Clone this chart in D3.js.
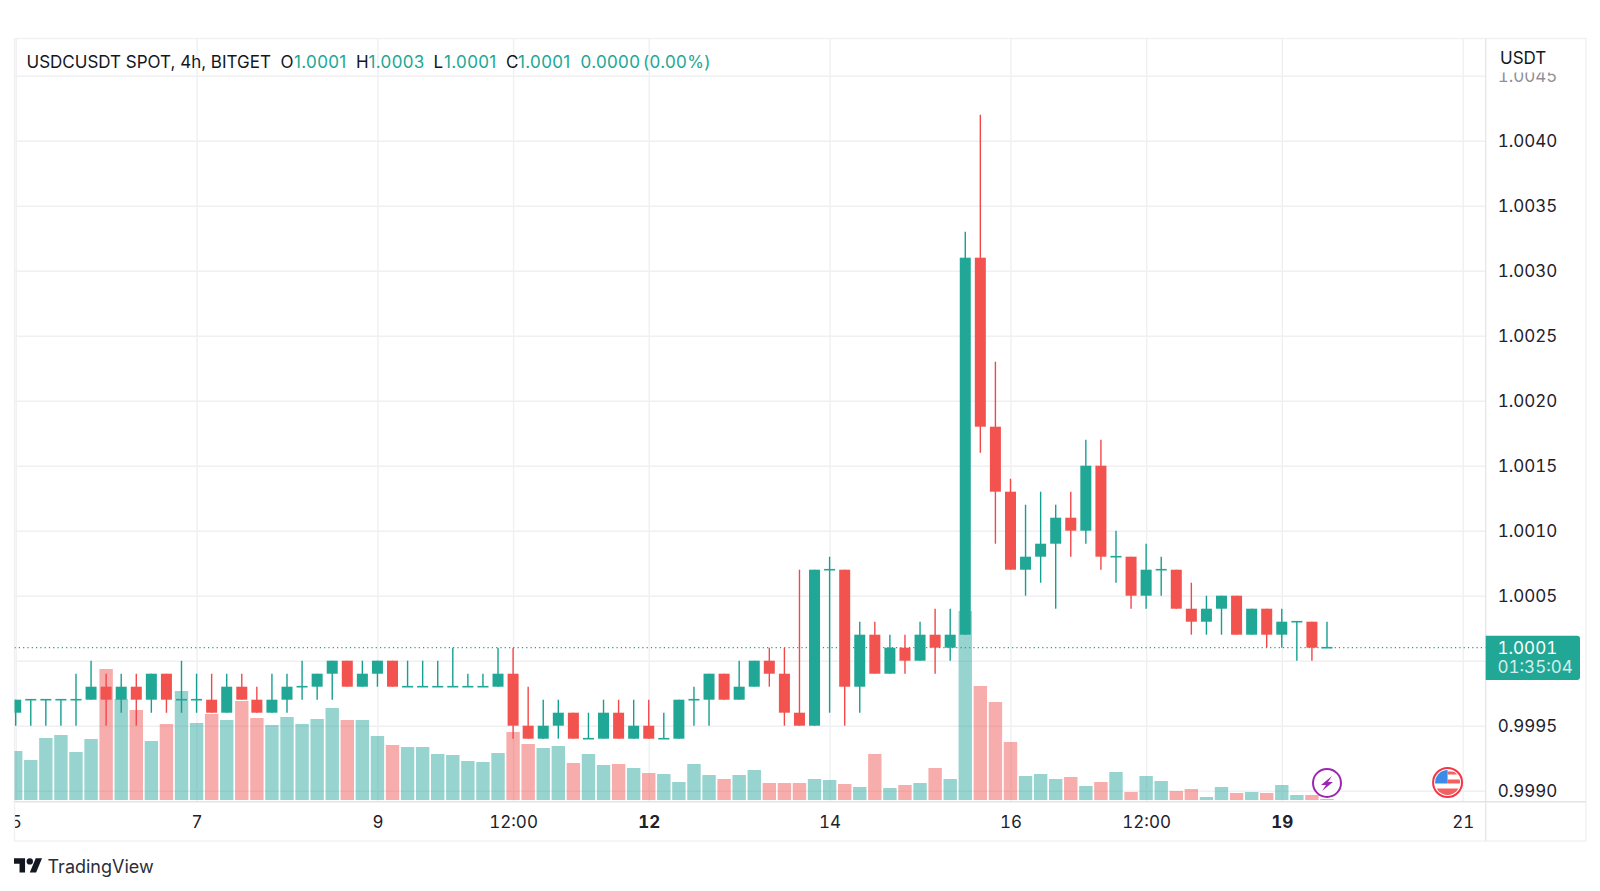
<!DOCTYPE html>
<html lang="en">
  <head>
    <meta charset="utf-8">
    <title>USDCUSDT</title>
    <script src="https://cdn.jsdelivr.net/npm/d3@7"></script>
    <style type="text/css">
      html, body { margin: 0; padding: 0; background: #fff; }
      svg { display: block; }
      text { font-family: Inter, "Noto Sans", sans-serif; fill: #131722; font-feature-settings: "tnum"; }
      .axis path { display: none; }
      .axis line { stroke: #f0f0f3; stroke-width: 1.4; }
      .axis text { font-size: 17px; fill: #1e222d; }
      .legend text { font-size: 17px; font-feature-settings: normal; }
      .legend text.num { letter-spacing: 0.35px; }
    </style>
  </head>
  <body>
    <div id="chart"></div>

    <script type="text/javascript">
      // candles, one per 4h
      var opens = [0.9996,0.9997,0.9997,0.9997,0.9997,0.9997,0.9998,0.9997,0.9998,0.9997,
        0.9999,0.9997,0.9997,0.9997,0.9996,0.9998,0.9997,0.9996,0.9997,0.9998,
        0.9998,0.9999,1.0000,0.9998,0.9999,1.0000,0.9998,0.9998,0.9998,0.9998,
        0.9998,0.9998,0.9998,0.9999,0.9995,0.9994,0.9995,0.9996,0.9994,0.9994,
        0.9996,0.9994,0.9995,0.9994,0.9994,0.9997,0.9997,0.9999,0.9997,0.9998,
        1.0000,0.9999,0.9996,0.9995,1.0007,1.0007,0.9998,1.0002,0.9999,1.0001,
        1.0000,1.0002,1.0001,1.0002,1.0031,1.0018,1.0013,1.0007,1.0008,1.0009,
        1.0011,1.0010,1.0015,1.0008,1.0008,1.0005,1.0007,1.0007,1.0004,1.0003,
        1.0004,1.0005,1.0002,1.0004,1.0002,1.0003,1.0003,1.0001];
      var highs = [0.9997,0.9997,0.9997,0.9997,0.9999,1.0000,0.9999,0.9999,0.9999,0.9999,
        0.9999,1.0000,0.9999,0.9999,0.9999,0.9999,0.9998,0.9999,0.9999,1.0000,
        0.9999,1.0000,1.0000,1.0000,1.0000,1.0000,1.0000,1.0000,1.0000,1.0001,
        0.9999,0.9999,1.0001,1.0001,0.9998,0.9997,0.9997,0.9996,0.9996,0.9997,
        0.9997,0.9997,0.9997,0.9996,0.9997,0.9998,0.9999,0.9999,1.0000,1.0000,
        1.0001,1.0001,1.0007,1.0007,1.0008,1.0007,1.0003,1.0003,1.0002,1.0002,
        1.0003,1.0004,1.0004,1.0033,1.0042,1.0023,1.0014,1.0012,1.0013,1.0012,
        1.0013,1.0017,1.0017,1.0010,1.0008,1.0009,1.0008,1.0007,1.0006,1.0005,
        1.0005,1.0005,1.0004,1.0004,1.0004,1.0003,1.0003,1.0003];
      var lows = [0.9995,0.9995,0.9995,0.9995,0.9995,0.9997,0.9995,0.9996,0.9995,0.9996,
        0.9996,0.9996,0.9996,0.9996,0.9996,0.9997,0.9996,0.9996,0.9996,0.9997,
        0.9997,0.9997,0.9998,0.9998,0.9998,0.9998,0.9998,0.9998,0.9998,0.9998,
        0.9998,0.9998,0.9998,0.9994,0.9994,0.9994,0.9994,0.9994,0.9994,0.9994,
        0.9994,0.9994,0.9994,0.9994,0.9994,0.9995,0.9995,0.9997,0.9997,0.9998,
        0.9998,0.9995,0.9995,0.9995,0.9996,0.9995,0.9996,0.9999,0.9999,0.9999,
        1.0000,0.9999,1.0000,1.0002,1.0016,1.0009,1.0007,1.0005,1.0006,1.0004,
        1.0008,1.0009,1.0007,1.0006,1.0004,1.0004,1.0005,1.0004,1.0002,1.0002,
        1.0002,1.0002,1.0002,1.0001,1.0001,1.0000,1.0000,1.0001];
      var closes = [0.9997,0.9997,0.9997,0.9997,0.9997,0.9998,0.9997,0.9998,0.9997,0.9999,
        0.9997,0.9997,0.9997,0.9996,0.9998,0.9997,0.9996,0.9997,0.9998,0.9998,
        0.9999,1.0000,0.9998,0.9999,1.0000,0.9998,0.9998,0.9998,0.9998,0.9998,
        0.9998,0.9998,0.9999,0.9995,0.9994,0.9995,0.9996,0.9994,0.9994,0.9996,
        0.9994,0.9995,0.9994,0.9994,0.9997,0.9997,0.9999,0.9997,0.9998,1.0000,
        0.9999,0.9996,0.9995,1.0007,1.0007,0.9998,1.0002,0.9999,1.0001,1.0000,
        1.0002,1.0001,1.0002,1.0031,1.0018,1.0013,1.0007,1.0008,1.0009,1.0011,
        1.0010,1.0015,1.0008,1.0008,1.0005,1.0007,1.0007,1.0004,1.0003,1.0004,
        1.0005,1.0002,1.0004,1.0002,1.0003,1.0003,1.0001,1.0001];
      var volumes = [49,40,62,65,48,61,131,101,90,59,
        76,109,77,86,80,99,82,75,83,76,
        81,92,80,80,64,55,53,53,46,45,
        39,38,47,68,56,52,54,37,46,35,
        36,32,27,26,18,36,25,21,25,30,
        17,17,17,21,20,16,13,46,12,15,
        17,32,21,189,114,98,58,24,26,21,
        23,14,18,28,8,24,19,9,11,3,
        13,7,8,7,15,5,5,1];

      var priceTicks = [0.9990,0.9995,1.0000,1.0005,1.0010,1.0015,1.0020,1.0025,1.0030,1.0035,1.0040,1.0045];
      var priceLabels = ["0.9990","0.9995","","1.0005","1.0010","1.0015","1.0020","1.0025","1.0030","1.0035","1.0040","1.0045"];
      var timeTicks = [0,12,24,33,42,54,66,75,84,96];
      var timeLabels = ["5","7","9","12:00","12","14","16","12:00","19","21"];
      var boldLabels = ["12","19"];
      var lastPrice = 1.0001;

      // "top" is taken on window, so pane* names here
      var paneLeft = 14.5, paneRight = 1485.7, paneTop = 38.5, paneBottom = 801.7, frameRight = 1586, frameBottom = 841;
      var green = "#20a796", red = "#f2534f";
      var greenWick = "#14a090", redWick = "#f4474a";

      var svg = d3.select("#chart").append("svg").attr("width", 1600).attr("height", 891);

      var x = d3.scaleLinear().domain([0, 87]).range([15.7, 1327]);
      var y = d3.scaleLinear().domain([0.9990, 1.0045]).range([790.7, 75.7]);
      var yVol = d3.scaleLinear().domain([0, 200]).range([800, 600]);

      svg.append("defs").append("clipPath").attr("id", "pane").append("rect")
        .attr("x", paneLeft).attr("y", paneTop)
        .attr("width", paneRight - paneLeft).attr("height", paneBottom - paneTop);

      // x axis, also draws the vertical grid
      var xAxis = d3.axisBottom(x).tickValues(timeTicks)
        .tickSize(paneTop - paneBottom)
        .tickFormat(function (d, i) { return timeLabels[i]; });
      var gx = svg.append("g").attr("class", "axis").attr("transform", "translate(0," + paneBottom + ")").call(xAxis);
      gx.selectAll("text").attr("y", 20).attr("dy", "0.35em")
        .style("font-weight", function (d, i) { return boldLabels.indexOf(timeLabels[i]) >= 0 ? 700 : 400; });

      // y axis on the right, ticks run back over the pane
      var yAxis = d3.axisRight(y).tickValues(priceTicks)
        .tickSize(paneLeft - paneRight)
        .tickFormat(function (d, i) { return priceLabels[i]; });
      var gy = svg.append("g").attr("class", "axis").attr("transform", "translate(" + paneRight + ",0)").call(yAxis);
      gy.selectAll("text").attr("x", 12).attr("dy", "0.35em").attr("text-anchor", "start");
      gy.selectAll("g").filter(function (d) { return d === 1.0045; }).select("text").attr("opacity", 0.5);

      // hides the top of 1.0045 and the left of the "5", as the pane edges do in the chart
      svg.append("rect").attr("x", paneRight).attr("y", 30).attr("width", 110).attr("height", 42.5).attr("fill", "#fff");
      svg.append("rect").attr("x", 0).attr("y", 805).attr("width", paneLeft).attr("height", 34).attr("fill", "#fff");

      // frame and pane borders
      svg.append("rect").attr("x", paneLeft).attr("y", paneTop)
        .attr("width", frameRight - paneLeft).attr("height", frameBottom - paneTop)
        .attr("fill", "none").attr("stroke", "#f0f0f3").attr("stroke-width", 1.3);
      svg.append("line").attr("x1", paneRight).attr("x2", paneRight).attr("y1", paneTop).attr("y2", frameBottom)
        .attr("stroke", "#e8e8ec").attr("stroke-width", 1.5);
      svg.append("line").attr("x1", paneLeft).attr("x2", frameRight).attr("y1", paneBottom).attr("y2", paneBottom)
        .attr("stroke", "#e4e4e8").attr("stroke-width", 1.5);

      var pane = svg.append("g").attr("clip-path", "url(#pane)");
      var idx = d3.range(opens.length);
      function isUp(i) { return closes[i] >= opens[i]; }

      // volume
      pane.selectAll("rect.vol").data(idx).enter().append("rect")
        .attr("class", "vol")
        .attr("x", function (i) { return x(i) - 6.7; })
        .attr("width", 13.4)
        .attr("y", function (i) { return yVol(volumes[i]); })
        .attr("height", function (i) { return yVol(0) - yVol(volumes[i]); })
        .attr("fill", function (i) { return isUp(i) ? "#26a69a" : "#ef5350"; })
        .attr("fill-opacity", 0.48);

      // last price line
      pane.append("line").attr("x1", paneLeft).attr("x2", paneRight)
        .attr("y1", y(lastPrice)).attr("y2", y(lastPrice))
        .attr("stroke", "#1b9f90").attr("stroke-width", 1.2).attr("stroke-dasharray", "1.2 3.1");

      // wicks
      pane.selectAll("line.wick").data(idx).enter().append("line")
        .attr("class", "wick")
        .attr("x1", function (i) { return x(i); })
        .attr("x2", function (i) { return x(i); })
        .attr("y1", function (i) { return y(highs[i]); })
        .attr("y2", function (i) { return y(lows[i]); })
        .attr("stroke", function (i) { return isUp(i) ? greenWick : redWick; })
        .attr("stroke-width", 1.4);

      // bodies, flat candles still get a thin bar
      pane.selectAll("rect.body").data(idx).enter().append("rect")
        .attr("class", "body")
        .attr("x", function (i) { return x(i) - 5.5; })
        .attr("width", 11)
        .attr("y", function (i) { return y(Math.max(opens[i], closes[i])) - (opens[i] === closes[i] ? 0.8 : 0); })
        .attr("height", function (i) { return Math.max(1.6, Math.abs(y(opens[i]) - y(closes[i]))); })
        .attr("fill", function (i) { return isUp(i) ? green : red; });

      // legend
      var legendParts = [
        ["USDCUSDT SPOT, 4h, BITGET", 26.5, "#131722"],
        ["O", 280.5, "#131722"], ["1.0001", 294, green],
        ["H", 356, "#131722"], ["1.0003", 368.5, green],
        ["L", 433.5, "#131722"], ["1.0001", 444, green],
        ["C", 506, "#131722"], ["1.0001", 518, green],
        ["0.0000", 580.5, green], ["(0.00%)", 643, green]
      ];
      svg.append("g").attr("class", "legend").selectAll("text").data(legendParts).enter().append("text")
        .attr("class", function (d) { return d[2] === green ? "num" : null; })
        .attr("x", function (d) { return d[1]; })
        .attr("y", 62).attr("dy", "0.35em")
        .style("fill", function (d) { return d[2]; })
        .text(function (d) { return d[0]; });

      svg.append("text").attr("x", 1500).attr("y", 58.5).attr("dy", "0.35em")
        .style("font-size", "17px").text("USDT");

      // last price tag
      svg.append("path")
        .attr("d", "M" + paneRight + ",635.7H1577a3,3 0 0 1 3,3V677a3,3 0 0 1 -3,3H" + paneRight + "Z")
        .attr("fill", green);
      svg.append("text").attr("x", 1497.5).attr("y", y(lastPrice)).attr("dy", "0.35em")
        .style("font-size", "17px").style("fill", "#fff").text("1.0001");
      svg.append("text").attr("x", 1497.5).attr("y", 667.5).attr("dy", "0.35em")
        .style("font-size", "17px").style("fill", "#fff").style("opacity", 0.8).text("01:35:04");

      // event markers
      var bolt = svg.append("g").attr("transform", "translate(" + x(87) + ",783)");
      bolt.append("circle").attr("r", 14).attr("fill", "#fff").attr("stroke", "#9c27b0").attr("stroke-width", 2);
      bolt.append("path").attr("d", "M5,-7 L-6,2 L-1,2 L-5,8 L6,-1 L1,-1 Z").attr("fill", "#9c27b0");

      var flag = svg.append("g").attr("transform", "translate(" + x(95) + ",782.5)");
      flag.append("clipPath").attr("id", "flagClip").append("circle").attr("r", 12.5);
      flag.append("circle").attr("r", 14.5).attr("fill", "#fff").attr("stroke", "#f23645").attr("stroke-width", 2);
      var flagIn = flag.append("g").attr("clip-path", "url(#flagClip)");
      flagIn.append("rect").attr("x", 0).attr("y", -3).attr("width", 13).attr("height", 4).attr("fill", "#f2605f");
      flagIn.append("rect").attr("x", -13).attr("y", 6).attr("width", 26).attr("height", 8).attr("fill", "#f2605f");
      flagIn.append("rect").attr("x", 0).attr("y", -11).attr("width", 13).attr("height", 3).attr("fill", "#f2605f");
      flagIn.append("rect").attr("x", -13).attr("y", -13).attr("width", 13).attr("height", 14).attr("fill", "#3d8be8");

      // logo
      var logo = svg.append("g").attr("transform", "translate(14,857.5) scale(0.79)").attr("fill", "#131722");
      logo.append("path").attr("d", "M14 19H7V8H0V1h14v18zM28 19h-8l7.5-18h8L28 19z");
      logo.append("circle").attr("cx", 20).attr("cy", 5).attr("r", 4);
      svg.append("text").attr("x", 47.5).attr("y", 866.5).attr("dy", "0.35em")
        .style("font-size", "18px").style("fill", "#2a2e39").text("TradingView");
    </script>
  </body>
</html>
